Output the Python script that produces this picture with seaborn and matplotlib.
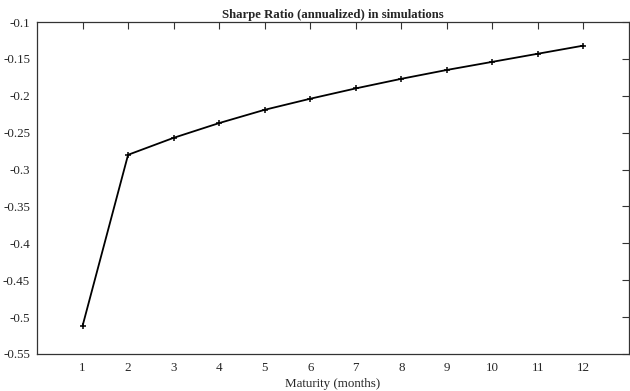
import matplotlib
matplotlib.use("Agg")
import matplotlib.pyplot as plt
import seaborn as sns
import pandas as pd

maturity = [1, 2, 3, 4, 5, 6, 7, 8, 9, 10, 11, 12]
sharpe = [-0.512, -0.280, -0.257, -0.237, -0.219, -0.204, -0.190, -0.177, -0.165, -0.154, -0.143, -0.132]
y_ticks = [-0.55, -0.5, -0.45, -0.4, -0.35, -0.3, -0.25, -0.2, -0.15, -0.1]
y_tick_labels = ["-0.55", "-0.5", "-0.45", "-0.4", "-0.35", "-0.3", "-0.25", "-0.2", "-0.15", "-0.1"]

sns.set_theme(style="white")
plt.rcParams["font.family"] = ["Liberation Serif", "DejaVu Serif"]
plt.rcParams["xtick.direction"] = "in"
plt.rcParams["ytick.direction"] = "in"

df = pd.DataFrame({"maturity": maturity, "sharpe": sharpe})

fig = plt.figure(figsize=(6.3, 3.91), dpi=100)
ax = fig.add_axes([37 / 630, 1 - 354 / 391, (629 - 37) / 630, (354 - 22) / 391])

sns.lineplot(data=df, x="maturity", y="sharpe", ax=ax, color="black", linewidth=1.3,
             marker="+", markersize=5, markeredgewidth=1.1, markeredgecolor="black")

ax.set_xlim(0, 13)
ax.set_ylim(-0.55, -0.1)
ax.set_xticks(maturity)
ax.set_xticklabels([str(m) for m in maturity], fontsize=9.4)
ax.set_yticks(y_ticks)
ax.set_yticklabels(y_tick_labels, fontsize=9.4)
ax.tick_params(axis="both", which="both", length=5, width=0.8, color="#333333",
               top=True, right=True, labeltop=False, labelright=False, pad=5)
ax.tick_params(axis="x", pad=6)
for side in ["left", "right", "top", "bottom"]:
    ax.spines[side].set_visible(True)
    ax.spines[side].set_color("#333333")
    ax.spines[side].set_linewidth(0.9)

ax.set_xlabel("Maturity (months)", fontsize=9.4, labelpad=3)
ax.set_ylabel("")
ax.set_title("Sharpe Ratio (annualized) in simulations", fontsize=9.2, fontweight="bold", pad=3)

fig.savefig("out.png", dpi=100)
